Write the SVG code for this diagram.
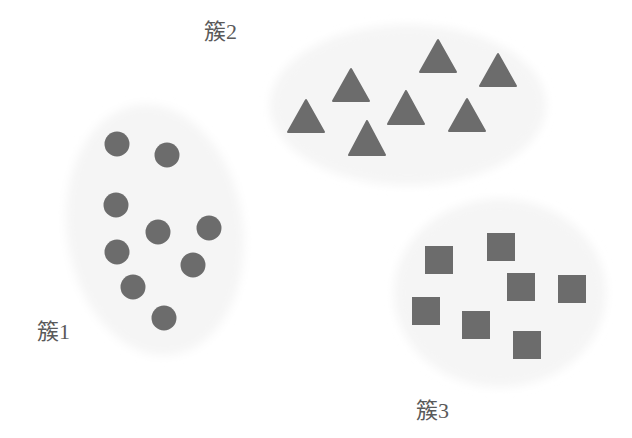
<svg xmlns="http://www.w3.org/2000/svg" width="632" height="438" viewBox="0 0 632 438">
<style>
.blob{fill:#f5f5f5;filter:url(#soft)}
.pt{fill:#6c6c6c}
.tri{fill:#6c6c6c;stroke:#6c6c6c;stroke-width:2;stroke-linejoin:round}
.lbl{font-family:"Liberation Serif","Noto Sans CJK SC",serif;font-size:22px;fill:#5a5a5a}
</style>
<defs>
<filter id="soft" x="-20%" y="-20%" width="140%" height="140%"><feGaussianBlur stdDeviation="5"/></filter>
</defs>
<rect width="632" height="438" fill="#fff"/>
<g id="cluster1">
<ellipse class="blob" cx="155" cy="230" rx="88" ry="126" transform="rotate(-8 155 230)"/>
<circle class="pt" cx="117" cy="144" r="12.5"/>
<circle class="pt" cx="167" cy="155" r="12.5"/>
<circle class="pt" cx="116" cy="205" r="12.5"/>
<circle class="pt" cx="158" cy="232" r="12.5"/>
<circle class="pt" cx="209" cy="228" r="12.5"/>
<circle class="pt" cx="117" cy="252" r="12.5"/>
<circle class="pt" cx="193" cy="265" r="12.5"/>
<circle class="pt" cx="133" cy="287" r="12.5"/>
<circle class="pt" cx="164" cy="318" r="12.5"/>
<text class="lbl" x="37" y="339">簇1</text>
</g>
<g id="cluster2">
<ellipse class="blob" cx="408" cy="105" rx="138" ry="80"/>
<polygon class="tri" points="438,40 420,72 456,72"/>
<polygon class="tri" points="498,54 480,86 516,86"/>
<polygon class="tri" points="351,69 333,101 369,101"/>
<polygon class="tri" points="406,91 388,124 424,124"/>
<polygon class="tri" points="306,100 288,132 324,132"/>
<polygon class="tri" points="467,99 449,131 485,131"/>
<polygon class="tri" points="367,121 349,155 385,155"/>
<text class="lbl" x="204" y="39">簇2</text>
</g>
<g id="cluster3">
<ellipse class="blob" cx="500" cy="293" rx="106" ry="94"/>
<rect class="pt" x="425" y="246" width="28" height="28"/>
<rect class="pt" x="487" y="233" width="28" height="28"/>
<rect class="pt" x="507" y="273" width="28" height="28"/>
<rect class="pt" x="558" y="275" width="28" height="28"/>
<rect class="pt" x="412" y="297" width="28" height="28"/>
<rect class="pt" x="462" y="311" width="28" height="28"/>
<rect class="pt" x="513" y="331" width="28" height="28"/>
<text class="lbl" x="416" y="418">簇3</text>
</g>
<g id="connectors"/>
</svg>
